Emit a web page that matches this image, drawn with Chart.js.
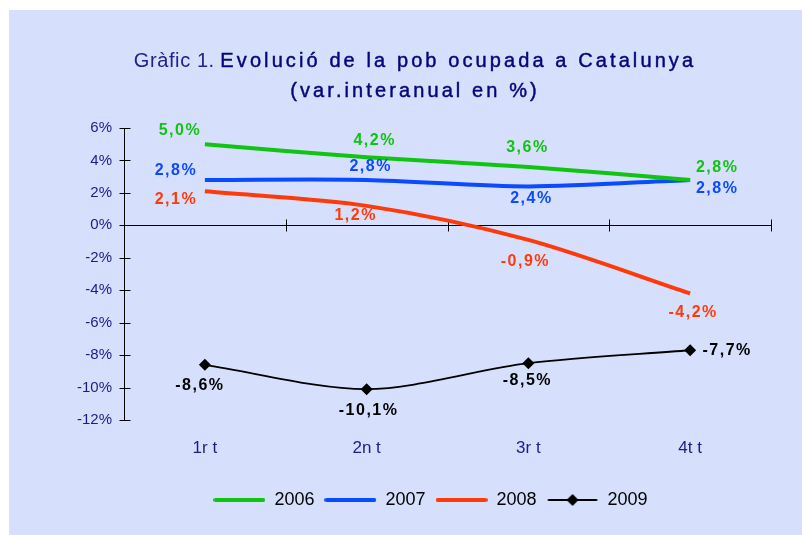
<!DOCTYPE html>
<html>
<head>
<meta charset="utf-8">
<script src="https://cdn.jsdelivr.net/npm/chart.js@4/dist/chart.umd.min.js"></script>
<style>
  body { margin: 0; background: #fff; }
  #frame { position: absolute; left: 9px; top: 10px; width: 793px; height: 525px; background: #d6dffb; }
  #chart { position: absolute; left: 0; top: 0; }
  #title { position: absolute; left: 15px; top: 45px; width: 800px; text-align: center;
    color: #06067c; font-family: 'Liberation Sans', Arial, sans-serif; font-size: 20px; line-height: 30px; }
  #title .pre { color: #22228e; letter-spacing: 0.6px; }
  #title .main { letter-spacing: 3.1px; -webkit-text-stroke: 0.45px #06067c; }
</style>
</head>
<body>
<div id="frame">
  <canvas id="chart" width="793" height="525"></canvas>
</div>
<div id="title"><span class="pre">Gràfic 1.</span> <span class="main">Evolució de la pob ocupada a Catalunya</span><br><span class="main">(var.interanual en %)</span></div>
<script>
// dades
var quarters = ['1r t', '2n t', '3r t', '4t t'];
var years = ['2006', '2007', '2008', '2009'];
var v2006 = [5.0, 4.2, 3.6, 2.8];
var v2007 = [2.8, 2.8, 2.4, 2.8];
var v2008 = [2.1, 1.2, -0.9, -4.2];
var v2009 = [-8.6, -10.1, -8.5, -7.7];
var yTickValues = [6, 4, 2, 0, -2, -4, -6, -8, -10, -12];

var colors = ['#11c411', '#0a4bff', '#ff3a0a', '#000000'];
// label offsets from the point (px)
var labelOffsets = [
	[[-25, -14], [8, -17], [-1, -19], [27, -12]],
	[[-29, -9], [4, -13], [3, 12], [27, 9]],
	[[-29, 8], [-11, 10], [-3, 22], [3, 19]],
	[[-5, 21], [2, 21], [-1, 17], [37, 0]]
];

var textBlue = '#1c1c8c';
Chart.defaults.font.family = "'Liberation Sans', Arial, sans-serif";

function legendSample(color, width, diamond) {
	var c = document.createElement('canvas');
	c.width = 52; c.height = 14;
	var g = c.getContext('2d');
	g.strokeStyle = color;
	g.lineWidth = width;
	g.lineCap = 'round';
	g.beginPath(); g.moveTo(2, 7); g.lineTo(50, 7); g.stroke();
	if (diamond) {
		g.fillStyle = color;
		g.beginPath(); g.moveTo(26, 1); g.lineTo(32, 7); g.lineTo(26, 13); g.lineTo(20, 7); g.closePath(); g.fill();
	}
	return c;
}

function fmt(v) {
	return v.toFixed(1).replace('.', ',') + '%';
}

var axisPlugin = {
	id: 'axisPlugin',
	afterLayout: function(chart) {
		// nudge the legend to the right, like the original
		chart.legend.left += 13;
		chart.legend.right += 13;
	},
	beforeDatasetsDraw: function(chart) {
		var ctx = chart.ctx, x = chart.scales.x, y = chart.scales.y, a = chart.chartArea;
		var y0 = Math.round(y.getPixelForValue(0)) + 0.5;
		ctx.save();
		ctx.strokeStyle = '#000';
		ctx.lineWidth = 1;
		ctx.beginPath();
		ctx.moveTo(a.left, y0); ctx.lineTo(a.right, y0);
		var step = x.getPixelForValue(1) - x.getPixelForValue(0);
		for (var i = 0; i < quarters.length; i++) {
			var px = Math.round(x.getPixelForValue(i) + step / 2) + 0.5;
			ctx.moveTo(px, y0 - 6); ctx.lineTo(px, y0 + 6);
		}
		var ax = Math.round(a.left) + 0.5;
		yTickValues.forEach(function(v) {
			var py = Math.round(y.getPixelForValue(v)) + 0.5;
			ctx.moveTo(ax - 5, py); ctx.lineTo(ax + 6, py);
		});
		ctx.stroke();
		ctx.restore();
	},
	afterDatasetsDraw: function(chart) {
		var ctx = chart.ctx;
		ctx.save();
		ctx.font = "bold 16px 'Liberation Sans', Arial, sans-serif";
		ctx.letterSpacing = '1.5px';
		ctx.textAlign = 'center';
		ctx.textBaseline = 'middle';
		chart.data.datasets.forEach(function(ds, di) {
			var meta = chart.getDatasetMeta(di);
			ctx.fillStyle = colors[di];
			meta.data.forEach(function(pt, i) {
				var off = labelOffsets[di][i];
				ctx.fillText(fmt(ds.data[i]), pt.x + off[0], pt.y + off[1]);
			});
		});
		ctx.restore();
	}
};

var series = [v2006, v2007, v2008, v2009];
var ctx = document.getElementById('chart').getContext('2d');
var myChart = new Chart(ctx, {
	type: 'line',
	data: {
		labels: quarters,
		datasets: series.map(function(vals, i) {
			var last = i === 3;
			return {
				label: years[i],
				data: vals,
				borderColor: colors[i],
				backgroundColor: colors[i],
				borderWidth: last ? 1.8 : 4,
				tension: 0.3,
				fill: false,
				pointStyle: 'rectRot',
				pointRadius: last ? 6 : 0,
				pointBackgroundColor: colors[i],
				pointBorderWidth: 0
			};
		})
	},
	options: {
		responsive: false,
		animation: false,
		events: [],
		layout: { padding: { left: 55, right: 31, top: 118, bottom: 16 } },
		plugins: {
			title: { display: false },
			tooltip: { enabled: false },
			legend: {
				position: 'bottom',
				labels: {
					usePointStyle: true,
					pointStyleWidth: 52,
					padding: 10,
					color: textBlue,
					font: { size: 18 },
					generateLabels: function(chart) {
						return years.map(function(y, i) {
							return {
								text: y,
								pointStyle: legendSample(colors[i], i === 3 ? 1.8 : 4, i === 3),
								fillStyle: colors[i],
								strokeStyle: colors[i],
								lineWidth: 0,
								datasetIndex: i,
								hidden: false
							};
						});
					}
				}
			}
		},
		scales: {
			x: {
				offset: true,
				grid: { display: false, drawTicks: false },
				border: { display: false },
				ticks: { color: textBlue, font: { size: 17 }, padding: 18 },
				afterFit: function(s) { s.height = 61; }
			},
			y: {
				min: -12,
				max: 6,
				grid: { display: false, drawTicks: false },
				border: { display: true, color: '#000', width: 1 },
				ticks: { color: textBlue, font: { size: 15 }, padding: 12, callback: function(v) { return v + '%'; } },
				afterBuildTicks: function(s) { s.ticks = yTickValues.map(function(v) { return { value: v }; }); },
				afterFit: function(s) { s.width = 60; }
			}
		}
	},
	plugins: [axisPlugin]
});
</script>
</body>
</html>
